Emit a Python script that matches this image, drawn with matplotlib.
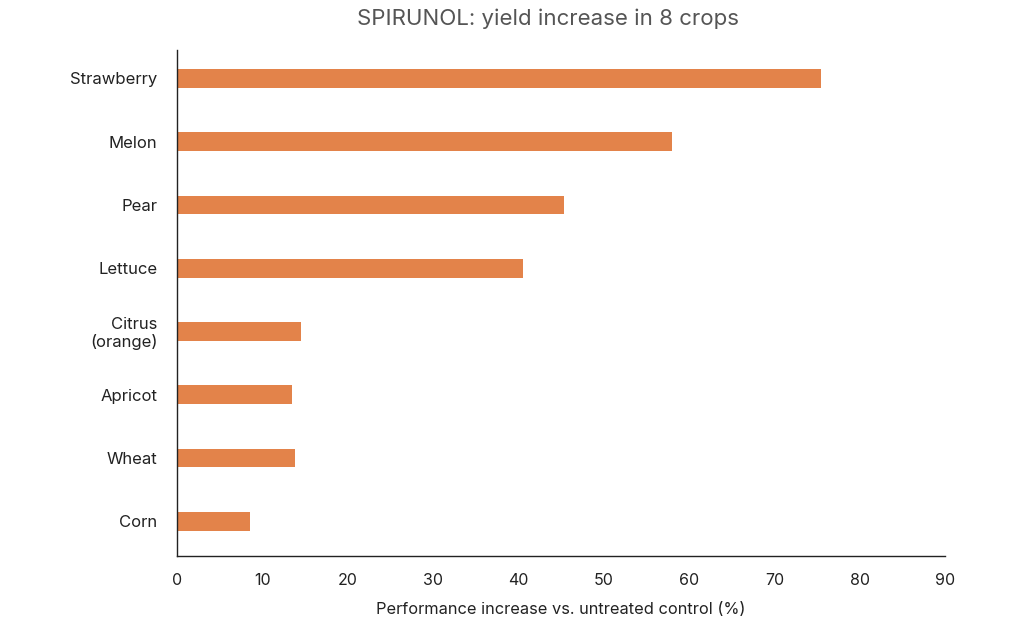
import numpy as np
import matplotlib
matplotlib.use('Agg')
import matplotlib.pyplot as plt

crops = ['Strawberry', 'Melon', 'Pear', 'Lettuce', 'Citrus\n(orange)',
         'Apricot', 'Wheat', 'Corn']
increase = [75.5, 58.0, 45.3, 40.5, 14.5, 13.5, 13.8, 8.5]
x_ticks = [0, 10, 20, 30, 40, 50, 60, 70, 80, 90]

plt.rcParams['font.family'] = ['Inter', 'DejaVu Sans']

fig = plt.figure(figsize=(10.24, 6.23), dpi=100)
ax = fig.add_axes([0.1729, 0.1075, 0.75, 0.8122])

ind = np.arange(len(crops))
ax.barh(ind, increase, height=0.3, color='#e3834a')

ax.set_yticks(ind)
ax.set_yticklabels(crops, fontsize=12, color='#222222', linespacing=1.1)
ax.set_xticks(x_ticks)
ax.set_xticklabels([str(t) for t in x_ticks], fontsize=11.5, color='#222222')
ax.set_xlim(0, 90)
ax.set_ylim(7.55, -0.45)
ax.tick_params(axis='y', length=0, pad=14)
ax.tick_params(axis='x', length=0, pad=12)

for side in ['top', 'right']:
    ax.spines[side].set_visible(False)
for side in ['left', 'bottom']:
    ax.spines[side].set_color('#222222')
    ax.spines[side].set_linewidth(1.0)

ax.set_xlabel('Performance increase vs. untreated control (%)',
              fontsize=11.8, color='#222222', labelpad=10)
fig.text(0.535, 0.97, 'SPIRUNOL: yield increase in 8 crops',
         ha='center', va='center', fontsize=16, color='#555555')

fig.savefig('out.png', dpi=100)
